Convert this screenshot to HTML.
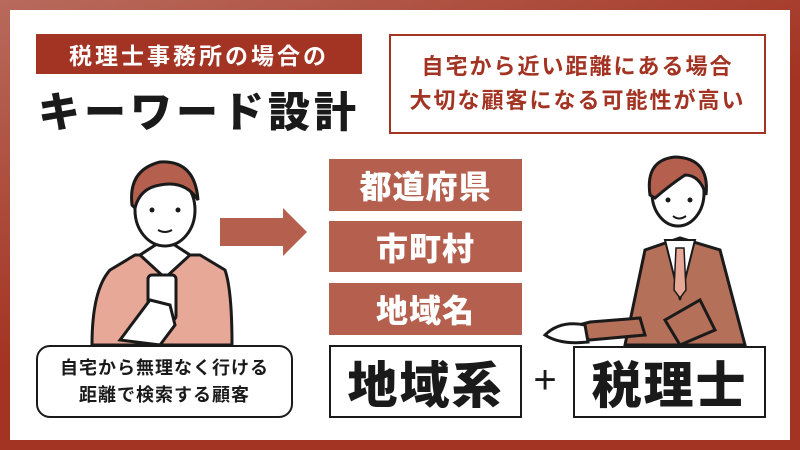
<!DOCTYPE html>
<html><head><meta charset="utf-8"><style>
*{margin:0;padding:0;box-sizing:border-box}
body{width:800px;height:450px;overflow:hidden;background:linear-gradient(160deg,#b86a5c,#a33322 50%);position:relative;font-family:"Liberation Sans","Noto Sans CJK JP",sans-serif;font-weight:bold}
.in{position:absolute;left:10px;top:10px;width:780px;height:430px;background:#fff}
.a{position:absolute;display:flex;align-items:center;justify-content:center;color:#1a1a1a;white-space:nowrap}
.br{background:#b5604f;color:#fff;font-size:32px;font-weight:900;letter-spacing:1px}
.bx{border:2px solid #1a1a1a;background:#fff;font-size:50px;font-weight:900;letter-spacing:2px}
</style></head><body>
<div class="in"></div>
<div class="a" style="left:36px;top:34px;width:326px;height:40px;background:#a33322;color:#fff;font-size:23px;letter-spacing:3px">税理士事務所の場合の</div>
<div class="a" style="left:36px;top:84px;width:326px;height:50px;font-size:42px;font-weight:900;letter-spacing:4px">キーワード設計</div>
<div class="a" style="left:389px;top:34px;width:377px;height:100px;border:2px solid #a33322;flex-direction:column;font-size:22px;line-height:34px;color:#a33322;letter-spacing:2px">
<div>自宅から近い距離にある場合</div><div>大切な顧客になる可能性が高い</div></div>
<div class="a br" style="left:329px;top:159px;width:193px;height:52px">都道府県</div>
<div class="a br" style="left:329px;top:221px;width:193px;height:51px">市町村</div>
<div class="a br" style="left:329px;top:283px;width:193px;height:52px">地域名</div>
<div class="a bx" style="left:329px;top:345px;width:193px;height:73px">地域系</div>
<div class="a bx" style="left:573px;top:346px;width:193px;height:72px">税理士</div>
<div class="a" style="left:530px;top:362px;width:30px;height:36px;font-size:40px;font-weight:normal">+</div>
<svg style="position:absolute;left:0;top:0" width="800" height="450">
<polygon points="220,218 283,218 283,208 307,232 283,256 283,246 220,246" fill="#b5604f"/>
<path d="M92,345 Q92,290 110,270 L135,255 L200,255 L225,270 Q232,290 232,345 Z" fill="#e8a898" stroke="#1a1a1a" stroke-width="3"/>
<path d="M140,255 L165,278 L190,255 L170,242 L160,242 Z" fill="#fff" stroke="#1a1a1a" stroke-width="3"/>
<ellipse cx="165" cy="210" rx="30" ry="36" fill="#fff" stroke="#1a1a1a" stroke-width="3"/>
<path d="M132,205 Q128,170 160,162 Q195,160 198,200 Q185,180 160,185 Q140,188 135,208 Z" fill="#b5604f" stroke="#1a1a1a" stroke-width="3"/>
<circle cx="152" cy="210" r="2.5" fill="#1a1a1a"/><circle cx="178" cy="210" r="2.5" fill="#1a1a1a"/>
<path d="M158,230 Q165,234 172,230" stroke="#1a1a1a" stroke-width="2" fill="none"/>
<rect x="148" y="275" width="28" height="45" rx="4" fill="#fff" stroke="#1a1a1a" stroke-width="3"/>
<path d="M120,340 L150,300 L170,305 L175,325 L160,345 Z" fill="#fff" stroke="#1a1a1a" stroke-width="3"/>
<path d="M625,345 L645,250 L680,238 L720,250 L745,345 Z" fill="#b5705a" stroke="#1a1a1a" stroke-width="3"/>
<path d="M665,240 L680,300 L695,240 Z" fill="#fff" stroke="#1a1a1a" stroke-width="2"/>
<path d="M676,248 L684,248 L686,290 L680,298 L674,290 Z" fill="#e8a898" stroke="#1a1a1a" stroke-width="1.5"/>
<path d="M560,330 L590,322 L640,318 L645,335 L590,340 Z" fill="#b5705a" stroke="#1a1a1a" stroke-width="3"/>
<path d="M545,335 Q560,320 585,325 L588,342 Q560,345 545,335 Z" fill="#fff" stroke="#1a1a1a" stroke-width="3"/>
<path d="M665,320 L700,300 L715,330 L680,345 Z" fill="#b5705a" stroke="#1a1a1a" stroke-width="3"/>
<ellipse cx="678" cy="193" rx="26" ry="33" fill="#fff" stroke="#1a1a1a" stroke-width="3"/>
<path d="M650,195 Q645,160 675,157 Q710,158 706,195 Q700,175 685,175 Q670,185 655,198 Z" fill="#b5604f" stroke="#1a1a1a" stroke-width="3"/>
<circle cx="668" cy="200" r="2.5" fill="#1a1a1a"/><circle cx="690" cy="200" r="2.5" fill="#1a1a1a"/>
<path d="M673,216 Q679,221 686,216" stroke="#1a1a1a" stroke-width="2" fill="none"/>
</svg>
<div class="a" style="left:36px;top:345px;width:257px;height:73px;border:2px solid #1a1a1a;border-radius:14px;background:#fff;flex-direction:column;font-size:18px;line-height:27px;letter-spacing:1px"><div>自宅から無理なく行ける</div><div>距離で検索する顧客</div></div>
</body></html>
